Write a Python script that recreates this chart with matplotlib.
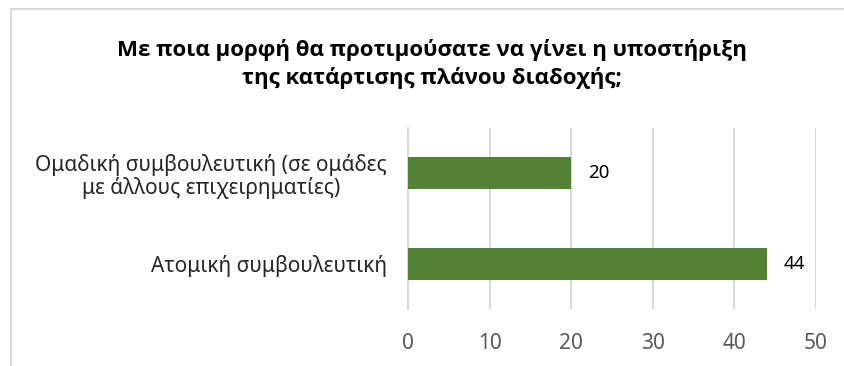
"""
    Horizontal bar chart: preferred form of succession-planning support
"""
import matplotlib
matplotlib.use("Agg")
import matplotlib.pyplot as plt
from matplotlib.patches import Rectangle

plt.rcParams['font.family'] = ['Noto Sans', 'DejaVu Sans']

# data (bottom to top)
categories = ["Ατομική συμβουλευτική",
              "Ομαδική συμβουλευτική (σε ομάδες\nμε άλλους επιχειρηματίες)"]
values = [44, 20]
x_ticks = [0, 10, 20, 30, 40, 50]
title = "Με ποια μορφή θα προτιμούσατε να γίνει η υποστήριξη\nτης κατάρτισης πλάνου διαδοχής;"

bar_color = "#548235"
grid_color = "#D9D9D9"

fig = plt.figure(figsize=(8.44, 3.66), dpi=100)

# outer chart frame (only top and left edges are inside the image)
fig.patches.append(Rectangle((11 / 844, -0.1), 1.2, 1 - 9 / 366 + 0.1,
                             transform=fig.transFigure, fill=False,
                             edgecolor=grid_color, linewidth=1.5))

ax = fig.add_axes([408 / 844, 57 / 366, 408 / 844, 181 / 366])
ypos = list(range(len(categories)))
bars = ax.barh(ypos, values, height=0.35, color=bar_color, zorder=3)

ax.set_xlim(0, 50)
ax.set_ylim(-0.5, 1.5)
ax.set_xticks(x_ticks)
ax.set_yticks(ypos)
ax.set_yticklabels(categories, multialignment='center', linespacing=1.1)
ax.tick_params(axis='x', length=0, pad=17, labelsize=15, labelcolor="#595959")
ax.tick_params(axis='y', length=0, pad=15, labelsize=15, labelcolor="#262626")
ax.grid(axis='x', color=grid_color, linewidth=1.5, zorder=0)
for side in ['top', 'right', 'bottom']:
    ax.spines[side].set_visible(False)
ax.spines['left'].set_color(grid_color)
ax.spines['left'].set_linewidth(1.5)

# value labels next to each bar
for b, v in zip(bars, values):
    ax.annotate(str(v), (v, b.get_y() + b.get_height() / 2),
                xytext=(12, 0), textcoords='offset points',
                va='center', ha='left', fontsize=13.5, color="#000000")

fig.text(432 / 844, 1 - 64 / 366, title, ha='center', va='center',
         multialignment='center', fontsize=16, fontweight='bold',
         family=['Open Sans', 'DejaVu Sans'],
         color="#000000", linespacing=1.35)

plt.savefig("out.png", dpi=100)
